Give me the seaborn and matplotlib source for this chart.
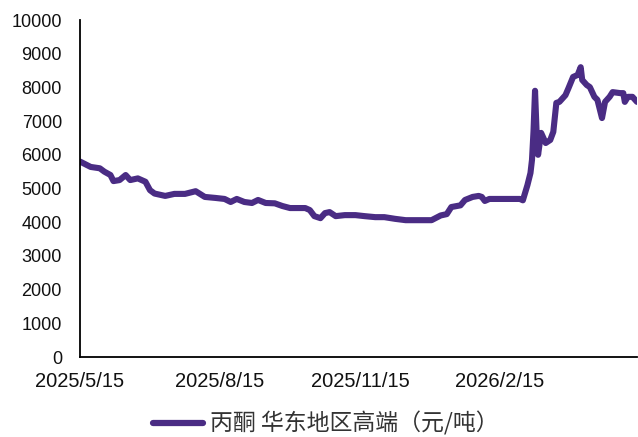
import matplotlib
matplotlib.use("Agg")
import matplotlib.pyplot as plt
import seaborn as sns
import pandas as pd

# Acetone, East China high-end quote (CNY/ton)
dates = [
    "2025-05-15", "2025-05-22", "2025-05-28", "2025-05-31", "2025-06-04",
    "2025-06-06", "2025-06-10", "2025-06-14", "2025-06-17", "2025-06-22",
    "2025-06-27", "2025-06-30", "2025-07-03", "2025-07-10", "2025-07-16",
    "2025-07-23", "2025-07-30", "2025-08-05", "2025-08-12", "2025-08-18",
    "2025-08-22", "2025-08-26", "2025-08-31", "2025-09-05", "2025-09-09",
    "2025-09-14", "2025-09-20", "2025-09-25", "2025-09-30", "2025-10-10",
    "2025-10-13", "2025-10-16", "2025-10-20", "2025-10-23", "2025-10-26",
    "2025-10-30", "2025-11-05", "2025-11-12", "2025-11-18", "2025-11-25",
    "2025-12-01", "2025-12-08", "2025-12-15", "2025-12-21", "2026-01-01",
    "2026-01-07", "2026-01-11", "2026-01-14", "2026-01-20", "2026-01-23",
    "2026-01-28", "2026-02-01", "2026-02-03", "2026-02-05", "2026-02-08",
    "2026-02-28", "2026-03-02", "2026-03-05", "2026-03-07", "2026-03-08",
    "2026-03-09", "2026-03-10", "2026-03-11", "2026-03-12", "2026-03-14",
    "2026-03-17", "2026-03-20", "2026-03-22", "2026-03-24", "2026-03-26",
    "2026-03-30", "2026-04-01", "2026-04-04", "2026-04-07", "2026-04-09",
    "2026-04-10", "2026-04-13", "2026-04-15", "2026-04-18", "2026-04-20",
    "2026-04-23", "2026-04-25", "2026-04-28", "2026-04-30", "2026-05-05",
    "2026-05-07", "2026-05-08", "2026-05-10", "2026-05-13", "2026-05-16",
]
prices = [
    5800, 5640, 5600, 5500, 5400,
    5220, 5250, 5400, 5250, 5300,
    5200, 4950, 4850, 4780, 4840,
    4840, 4920, 4750, 4720, 4690,
    4600, 4690, 4600, 4570, 4660,
    4570, 4560, 4480, 4420, 4420,
    4360, 4180, 4120, 4270, 4300,
    4180, 4210, 4210, 4180, 4150,
    4150, 4100, 4060, 4060, 4060,
    4200, 4240, 4450, 4500, 4660,
    4750, 4780, 4750, 4630, 4690,
    4690, 4650, 5100, 5460, 5850,
    6700, 7900, 6700, 6000, 6650,
    6350, 6440, 6680, 7540, 7570,
    7770, 7980, 8310, 8370, 8600,
    8220, 8070, 8010, 7720, 7630,
    7090, 7570, 7720, 7860, 7830,
    7830, 7570, 7720, 7720, 7570,
]
series_name = "丙酮 华东地区高端（元/吨）"
x_ticks = ["2025-05-15", "2025-08-15", "2025-11-15", "2026-02-15"]
x_tick_labels = ["2025/5/15", "2025/8/15", "2025/11/15", "2026/2/15"]
y_ticks = list(range(0, 10001, 1000))

df = pd.DataFrame({"date": pd.to_datetime(dates), "price": prices, "series": series_name})

sns.set_theme(style="white")
plt.rcParams["font.family"] = ["Liberation Sans", "Noto Sans CJK SC", "DejaVu Sans"]

fig = plt.figure(figsize=(6.38, 4.37), dpi=100)
ax = fig.add_axes([80 / 638, 1 - 357 / 437, 557 / 638, 337 / 437])

line_color = "#4a2c84"
sns.lineplot(data=df, x="date", y="price", hue="series", palette=[line_color],
             linewidth=4.4, ax=ax, legend=True)

ax.set_xlim(pd.Timestamp("2025-05-15"), pd.Timestamp("2026-05-16"))
ax.set_ylim(0, 10000)
ax.set_yticks(y_ticks)
ax.set_yticklabels([str(v) for v in y_ticks], fontsize=13, color="#111111")
ax.set_xticks(pd.to_datetime(x_ticks))
ax.set_xticklabels(x_tick_labels, fontsize=14.5, color="#111111",
                   family=["Liberation Sans Narrow", "Liberation Sans"])
ax.set_xlabel("")
ax.set_ylabel("")

for side in ("top", "right"):
    ax.spines[side].set_visible(False)
for side in ("left", "bottom"):
    ax.spines[side].set_color("black")
    ax.spines[side].set_linewidth(1.3)

ax.tick_params(axis="both", direction="in", length=4, width=1.1, color="black")
ax.tick_params(axis="y", pad=13)
ax.tick_params(axis="x", pad=11)

handles, labels = ax.get_legend_handles_labels()
ax.get_legend().remove()
leg = fig.legend(handles, labels, loc="center", bbox_to_anchor=(0.511, 0.03),
                 frameon=False, handlelength=2.2, handletextpad=0.3,
                 borderpad=0.2,
                 prop={"family": ["Noto Sans CJK SC"], "size": 16.5, "weight": "light"})
for h in leg.get_lines():
    h.set_linewidth(4.5)
for t in leg.get_texts():
    t.set_color("#333333")

fig.savefig("out.png", dpi=100)
